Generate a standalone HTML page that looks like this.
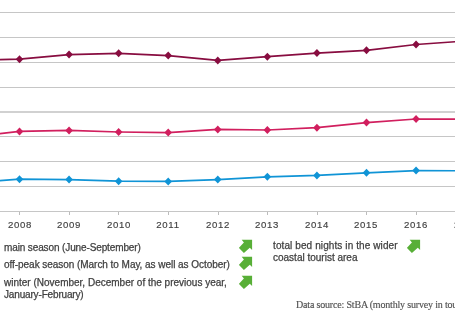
<!DOCTYPE html>
<html><head><meta charset="utf-8"><style>
html,body{margin:0;padding:0;background:#fff;width:455px;height:314px;overflow:hidden;position:relative}
body{font-family:"Liberation Sans",sans-serif;color:#404040}
.lg,.yr,.src{will-change:transform}
.lg{-webkit-text-stroke:0.25px #404040}
.yr{-webkit-text-stroke:0.15px #444}
.src{-webkit-text-stroke:0.15px #555}
svg.chart{position:absolute;left:0;top:0}
.yr{position:absolute;top:218.6px;width:40px;text-align:center;font-size:9.6px;letter-spacing:0.7px;line-height:12px}
.lg{position:absolute;font-size:10px;line-height:12px;white-space:nowrap}
.arr{position:absolute}
.src{position:absolute;left:296px;top:298.5px;font-family:"Liberation Serif",serif;font-size:10px;letter-spacing:-0.18px;line-height:12px;color:#505050;white-space:nowrap}
</style></head><body>
<svg class="chart" width="455" height="314" viewBox="0 0 455 314">
<rect x="0" y="12" width="455" height="1" fill="#c6c6c6"/>
<rect x="0" y="37" width="455" height="1" fill="#c6c6c6"/>
<rect x="0" y="62" width="455" height="1" fill="#c6c6c6"/>
<rect x="0" y="87" width="455" height="1" fill="#c6c6c6"/>
<rect x="0" y="111.2" width="455" height="1.6" fill="#c6c6c6"/>
<rect x="0" y="136" width="455" height="1" fill="#c6c6c6"/>
<rect x="0" y="161" width="455" height="1" fill="#c6c6c6"/>
<rect x="0" y="186" width="455" height="1" fill="#c6c6c6"/>
<rect x="0" y="211" width="455" height="1" fill="#c6c6c6"/>
<rect x="19" y="212" width="1" height="3" fill="#bcbcbc"/>
<rect x="69" y="212" width="1" height="3" fill="#bcbcbc"/>
<rect x="118" y="212" width="1" height="3" fill="#bcbcbc"/>
<rect x="168" y="212" width="1" height="3" fill="#bcbcbc"/>
<rect x="218" y="212" width="1" height="3" fill="#bcbcbc"/>
<rect x="267" y="212" width="1" height="3" fill="#bcbcbc"/>
<rect x="317" y="212" width="1" height="3" fill="#bcbcbc"/>
<rect x="366" y="212" width="1" height="3" fill="#bcbcbc"/>
<rect x="416" y="212" width="1" height="3" fill="#bcbcbc"/>
<rect x="465" y="212" width="1" height="3" fill="#bcbcbc"/>
<polyline points="-30.07,60.20 19.50,59.20 69.07,54.60 118.64,53.30 168.21,55.60 217.78,60.40 267.35,56.70 316.92,53.10 366.49,50.30 416.06,44.50 465.63,41.00" fill="none" stroke="#880D40" stroke-width="1.7" stroke-linejoin="round"/>
<path d="M19.50 55.20L23.30 59.20L19.50 63.20L15.70 59.20Z" fill="#880D40"/>
<path d="M69.07 50.60L72.87 54.60L69.07 58.60L65.27 54.60Z" fill="#880D40"/>
<path d="M118.64 49.30L122.44 53.30L118.64 57.30L114.84 53.30Z" fill="#880D40"/>
<path d="M168.21 51.60L172.01 55.60L168.21 59.60L164.41 55.60Z" fill="#880D40"/>
<path d="M217.78 56.40L221.58 60.40L217.78 64.40L213.98 60.40Z" fill="#880D40"/>
<path d="M267.35 52.70L271.15 56.70L267.35 60.70L263.55 56.70Z" fill="#880D40"/>
<path d="M316.92 49.10L320.72 53.10L316.92 57.10L313.12 53.10Z" fill="#880D40"/>
<path d="M366.49 46.30L370.29 50.30L366.49 54.30L362.69 50.30Z" fill="#880D40"/>
<path d="M416.06 40.50L419.86 44.50L416.06 48.50L412.26 44.50Z" fill="#880D40"/>
<polyline points="-30.07,136.90 19.50,131.40 69.07,130.40 118.64,132.00 168.21,132.60 217.78,129.40 267.35,130.00 316.92,127.70 366.49,122.60 416.06,119.00 465.63,119.20" fill="none" stroke="#D11F5E" stroke-width="1.7" stroke-linejoin="round"/>
<path d="M19.50 127.40L23.30 131.40L19.50 135.40L15.70 131.40Z" fill="#D11F5E"/>
<path d="M69.07 126.40L72.87 130.40L69.07 134.40L65.27 130.40Z" fill="#D11F5E"/>
<path d="M118.64 128.00L122.44 132.00L118.64 136.00L114.84 132.00Z" fill="#D11F5E"/>
<path d="M168.21 128.60L172.01 132.60L168.21 136.60L164.41 132.60Z" fill="#D11F5E"/>
<path d="M217.78 125.40L221.58 129.40L217.78 133.40L213.98 129.40Z" fill="#D11F5E"/>
<path d="M267.35 126.00L271.15 130.00L267.35 134.00L263.55 130.00Z" fill="#D11F5E"/>
<path d="M316.92 123.70L320.72 127.70L316.92 131.70L313.12 127.70Z" fill="#D11F5E"/>
<path d="M366.49 118.60L370.29 122.60L366.49 126.60L362.69 122.60Z" fill="#D11F5E"/>
<path d="M416.06 115.00L419.86 119.00L416.06 123.00L412.26 119.00Z" fill="#D11F5E"/>
<polyline points="-30.07,182.80 19.50,179.20 69.07,179.60 118.64,181.20 168.21,181.40 217.78,179.60 267.35,176.80 316.92,175.40 366.49,172.80 416.06,170.60 465.63,170.80" fill="none" stroke="#1094D6" stroke-width="1.7" stroke-linejoin="round"/>
<path d="M19.50 175.20L23.30 179.20L19.50 183.20L15.70 179.20Z" fill="#1094D6"/>
<path d="M69.07 175.60L72.87 179.60L69.07 183.60L65.27 179.60Z" fill="#1094D6"/>
<path d="M118.64 177.20L122.44 181.20L118.64 185.20L114.84 181.20Z" fill="#1094D6"/>
<path d="M168.21 177.40L172.01 181.40L168.21 185.40L164.41 181.40Z" fill="#1094D6"/>
<path d="M217.78 175.60L221.58 179.60L217.78 183.60L213.98 179.60Z" fill="#1094D6"/>
<path d="M267.35 172.80L271.15 176.80L267.35 180.80L263.55 176.80Z" fill="#1094D6"/>
<path d="M316.92 171.40L320.72 175.40L316.92 179.40L313.12 175.40Z" fill="#1094D6"/>
<path d="M366.49 168.80L370.29 172.80L366.49 176.80L362.69 172.80Z" fill="#1094D6"/>
<path d="M416.06 166.60L419.86 170.60L416.06 174.60L412.26 170.60Z" fill="#1094D6"/>
</svg>
<div class="yr" style="left:-0.50px">2008</div><div class="yr" style="left:49.07px">2009</div><div class="yr" style="left:98.64px">2010</div><div class="yr" style="left:148.21px">2011</div><div class="yr" style="left:197.78px">2012</div><div class="yr" style="left:247.35px">2013</div><div class="yr" style="left:296.92px">2014</div><div class="yr" style="left:346.49px">2015</div><div class="yr" style="left:396.06px">2016</div><div class="yr" style="left:445.63px">2017</div>
<div class="lg" style="left:4px;top:242px;letter-spacing:-0.12px">main season (June-September)</div>
<div class="lg" style="left:4px;top:259px;letter-spacing:-0.045px">off-peak season (March to May, as well as October)</div>
<div class="lg" style="left:4px;top:277px">winter (November, December of the previous year,<br><span style="letter-spacing:-0.16px">January-February)</span></div>
<div class="lg" style="left:273px;top:240px"><span style="letter-spacing:0.1px">total bed nights in the wider</span><br>coastal tourist area</div>
<svg class="arr" style="left:239px;top:239px" width="15" height="15" viewBox="0 0 15 15"><path d="M2.7 0.8H13.1V11L10.8 8.8L4.9 13.9L-0.1 8.8L4.9 3.4Z" fill="#58AF37"/></svg>
<svg class="arr" style="left:239px;top:256px" width="15" height="15" viewBox="0 0 15 15"><path d="M2.7 0.8H13.1V11L10.8 8.8L4.9 13.9L-0.1 8.8L4.9 3.4Z" fill="#58AF37"/></svg>
<svg class="arr" style="left:239px;top:275px" width="15" height="15" viewBox="0 0 15 15"><path d="M2.7 0.8H13.1V11L10.8 8.8L4.9 13.9L-0.1 8.8L4.9 3.4Z" fill="#58AF37"/></svg>
<svg class="arr" style="left:407px;top:239px" width="15" height="15" viewBox="0 0 15 15"><path d="M2.7 0.8H13.1V11L10.8 8.8L4.9 13.9L-0.1 8.8L4.9 3.4Z" fill="#58AF37"/></svg>
<div class="src">Data source: StBA (monthly survey in tourism)</div>
</body></html>
